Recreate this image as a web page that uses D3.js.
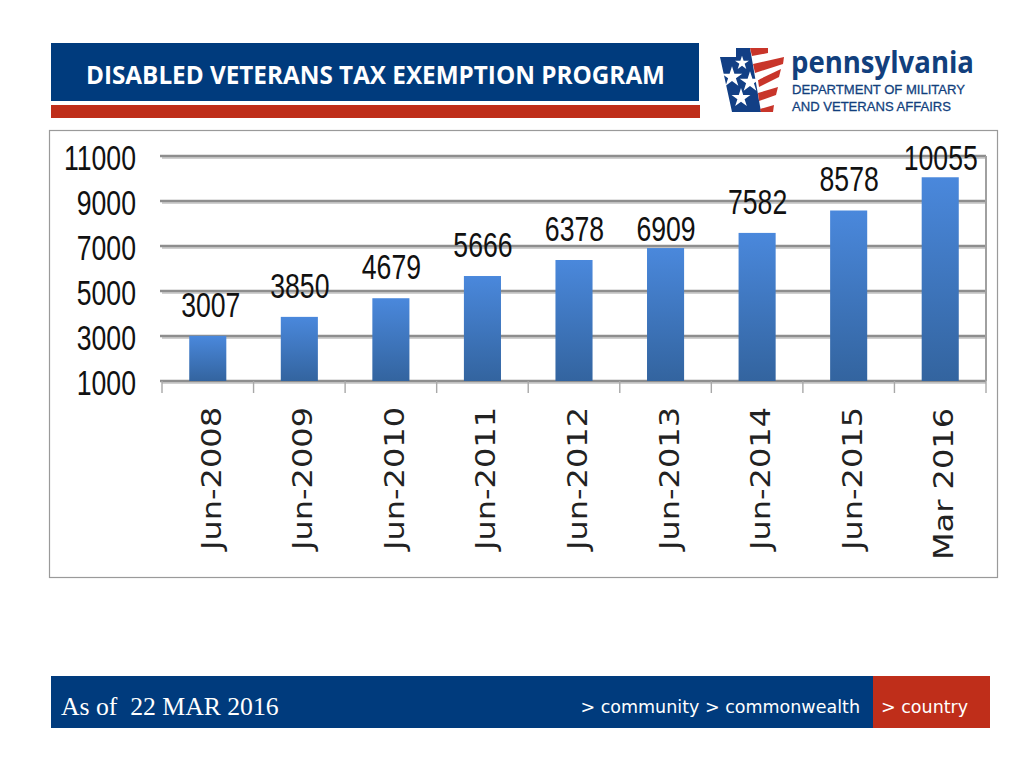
<!DOCTYPE html>
<html>
<head>
<meta charset="utf-8">
<script src="https://cdn.jsdelivr.net/npm/d3@7"></script>
<style>
  html, body { margin: 0; padding: 0; background: #fff; }
  svg { display: block; }
</style>
</head>
<body>
<svg id="slide" width="1024" height="781"></svg>
<script>
const categories = ['Jun-2008', 'Jun-2009', 'Jun-2010', 'Jun-2011', 'Jun-2012', 'Jun-2013', 'Jun-2014', 'Jun-2015', 'Mar 2016']
const veterans = [3007, 3850, 4679, 5666, 6378, 6909, 7582, 8578, 10055]
const yTicks = [1000, 3000, 5000, 7000, 9000, 11000]

const navy = '#003b7d'
const red = '#bf2e1a'

const svg = d3.select('#slide')

// vertical fade used on the bars
const defs = svg.append('defs')
const grad = defs.append('linearGradient').attr('id', 'barFill')
  .attr('x1', 0).attr('y1', 0).attr('x2', 0).attr('y2', 1)
grad.append('stop').attr('offset', '0%').attr('stop-color', '#4a88dc')
grad.append('stop').attr('offset', '100%').attr('stop-color', '#33649f')

// header
svg.append('rect').attr('x', 51).attr('y', 43).attr('width', 648).attr('height', 58).attr('fill', navy)
svg.append('rect').attr('x', 51).attr('y', 105).attr('width', 649).attr('height', 13).attr('fill', red)
svg.append('text').attr('x', 86).attr('y', 84)
  .attr('font-family', 'Open Sans').attr('font-weight', 700).attr('font-size', 24.5)
  .attr('textLength', 579).attr('lengthAdjust', 'spacingAndGlyphs')
  .attr('fill', '#fff').text('DISABLED VETERANS TAX EXEMPTION PROGRAM')

// logo
const logo = svg.append('g')
logo.append('path').attr('d', 'M720 57H784L773 112H732Z').attr('fill', '#fff')
logo.append('path').attr('d', 'M736 57V48H768V57Z').attr('fill', '#fff')
logo.append('path').attr('d', 'M720 57H736V48H750L761 112H732Z').attr('fill', '#123f85')
const stripes = [
  'M750 48H768V53L752 56Z',
  'M753 64L784 57L783 64L755 73Z',
  'M758 80L781 69L779 77L759 87Z',
  'M758 93L778 87L776 95L759 101Z',
  'M760 109L774 105L773 112H761Z'
]
logo.selectAll('path.stripe').data(stripes).join('path')
  .attr('class', 'stripe').attr('d', d => d).attr('fill', '#c8352a')
const star = d3.symbol().type(d3.symbolStar)
const stars = [[732, 77, 130], [742, 63, 60], [750, 82, 130], [741, 98, 110]]
logo.selectAll('path.star').data(stars).join('path')
  .attr('class', 'star')
  .attr('d', d => star.size(d[2])())
  .attr('transform', d => `translate(${d[0]},${d[1]})`)
  .attr('fill', '#fff')
logo.append('text').attr('x', 791).attr('y', 73)
  .attr('font-family', 'Open Sans').attr('font-weight', 700).attr('font-size', 30)
  .attr('textLength', 183).attr('lengthAdjust', 'spacingAndGlyphs')
  .attr('fill', '#123f7d').text('pennsylvania')
logo.append('text').attr('x', 792).attr('y', 94)
  .attr('font-family', 'Liberation Sans').attr('font-size', 13.5)
  .attr('textLength', 173).attr('lengthAdjust', 'spacingAndGlyphs')
  .attr('stroke', '#123f7d').attr('stroke-width', 0.3)
  .attr('fill', '#123f7d').text('DEPARTMENT OF MILITARY')
logo.append('text').attr('x', 792).attr('y', 111)
  .attr('font-family', 'Liberation Sans').attr('font-size', 13.5)
  .attr('textLength', 159).attr('lengthAdjust', 'spacingAndGlyphs')
  .attr('stroke', '#123f7d').attr('stroke-width', 0.3)
  .attr('fill', '#123f7d').text('AND VETERANS AFFAIRS')

// chart frame
svg.append('rect').attr('x', 49.5).attr('y', 130.5).attr('width', 948).attr('height', 447)
  .attr('fill', '#fff').attr('stroke', '#9a9a9a').attr('stroke-width', 1.2)

const x = d3.scaleBand().domain(categories).range([162, 986]).paddingInner(0.595).paddingOuter(0.2975)
const y = d3.scaleLinear().domain([1000, 11000]).range([381, 156])

const chart = svg.append('g')

// soft shadow under the gridlines, then the lines
chart.selectAll('line.shade').data(yTicks).join('line')
  .attr('class', 'shade')
  .attr('x1', 162).attr('x2', 986)
  .attr('y1', d => y(d) + 2).attr('y2', d => y(d) + 2)
  .attr('stroke', '#d0d0d0').attr('stroke-width', 2)
chart.selectAll('line.grid').data(yTicks).join('line')
  .attr('class', 'grid')
  .attr('x1', 160).attr('x2', 986)
  .attr('y1', d => y(d)).attr('y2', d => y(d))
  .attr('stroke', '#8e8e8e').attr('stroke-width', 2.4)

// right edge and the category ticks
chart.append('line').attr('x1', 986).attr('x2', 986).attr('y1', y(11000)).attr('y2', y(1000))
  .attr('stroke', '#a0a0a0').attr('stroke-width', 2)
const step = x.step()
const tickEdges = d3.range(categories.length).map(i => x(categories[i]) - (step - x.bandwidth()) / 2)
tickEdges.push(986)
chart.selectAll('line.tick').data(tickEdges).join('line')
  .attr('class', 'tick')
  .attr('x1', d => d).attr('x2', d => d)
  .attr('y1', y(1000)).attr('y2', y(1000) + 12)
  .attr('stroke', '#a8a8a8').attr('stroke-width', 1.4)

chart.selectAll('rect.bar').data(veterans).join('rect')
  .attr('class', 'bar')
  .attr('x', (d, i) => x(categories[i]))
  .attr('y', d => y(d))
  .attr('width', x.bandwidth())
  .attr('height', d => y(1000) - y(d))
  .attr('fill', 'url(#barFill)')

// narrow numbers, the original is a stretched chart picture
const narrow = 0.74
const numFont = 36

chart.selectAll('text.ytick').data(yTicks).join('text')
  .attr('class', 'ytick')
  .attr('transform', d => `translate(136,${y(d) + 14}) scale(${narrow},1)`)
  .attr('text-anchor', 'end')
  .attr('font-family', 'Liberation Sans').attr('font-size', numFont)
  .attr('fill', '#111').text(d => d)

// two labels sit lower than the rest in the original
const labelLift = d => (d === 6909 || d === 10055) ? 7 : 19

chart.selectAll('text.value').data(veterans).join('text')
  .attr('class', 'value')
  .attr('transform', (d, i) => `translate(${x(categories[i]) + x.bandwidth() / 2 + (i === 0 ? 3 : 0.5)},${y(d) - labelLift(d)}) scale(${narrow},1)`)
  .attr('text-anchor', 'middle')
  .attr('font-family', 'Liberation Sans').attr('font-size', numFont)
  .attr('fill', '#111').text(d => d)

chart.selectAll('text.cat').data(categories).join('text')
  .attr('class', 'cat')
  .attr('transform', d => `translate(${x(d) + x.bandwidth() / 2 + 13},${d === 'Mar 2016' ? 560 : 550}) rotate(-90) scale(1.186,1)`)
  .attr('font-family', 'DejaVu Sans').attr('font-size', 27)
  .attr('fill', '#222').text(d => d)

// footer
svg.append('rect').attr('x', 51).attr('y', 676).attr('width', 822).attr('height', 52).attr('fill', navy)
svg.append('rect').attr('x', 873).attr('y', 676).attr('width', 117).attr('height', 52).attr('fill', red)
svg.append('text').attr('x', 61).attr('y', 715)
  .attr('font-family', 'Liberation Serif').attr('font-size', 25.7)
  .attr('fill', '#fff').attr('xml:space', 'preserve').text('As of  22 MAR 2016')
svg.append('text').attr('x', 860).attr('y', 713).attr('text-anchor', 'end')
  .attr('font-family', 'DejaVu Sans').attr('font-size', 17.5)
  .attr('fill', '#fff').text('> community > commonwealth')
svg.append('text').attr('x', 881).attr('y', 713)
  .attr('font-family', 'DejaVu Sans').attr('font-size', 17.5)
  .attr('fill', '#fff').text('> country')
</script>
</body>
</html>
